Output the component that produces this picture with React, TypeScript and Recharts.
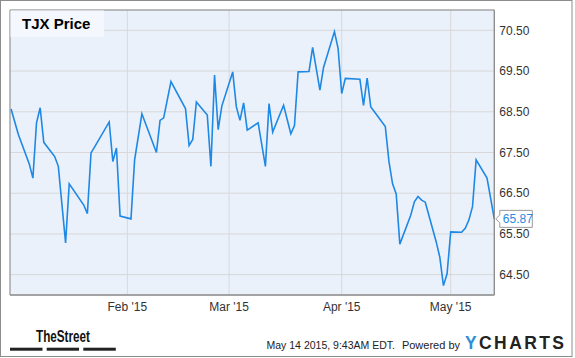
import React from "react";
import {
  LineChart,
  Line,
  XAxis,
  YAxis,
  CartesianGrid,
  ReferenceArea,
  LabelList,
} from "recharts";

const FONT = '"Liberation Sans", Arial, Helvetica, sans-serif';

// trading days that form the visible vertices of the price line
const dates = [
  "2014-12-31", "2015-01-02", "2015-01-05", "2015-01-06", "2015-01-07",
  "2015-01-08", "2015-01-09", "2015-01-12", "2015-01-13", "2015-01-15",
  "2015-01-16", "2015-01-20", "2015-01-21", "2015-01-22", "2015-01-23",
  "2015-01-27", "2015-01-28", "2015-01-29", "2015-01-30", "2015-02-02",
  "2015-02-03", "2015-02-05", "2015-02-09", "2015-02-10", "2015-02-11",
  "2015-02-13", "2015-02-17", "2015-02-18", "2015-02-19", "2015-02-20",
  "2015-02-23", "2015-02-24", "2015-02-25", "2015-02-26", "2015-02-27",
  "2015-03-02", "2015-03-03", "2015-03-04", "2015-03-05", "2015-03-06",
  "2015-03-09", "2015-03-11", "2015-03-12", "2015-03-13", "2015-03-16",
  "2015-03-18", "2015-03-19", "2015-03-20", "2015-03-23", "2015-03-24",
  "2015-03-26", "2015-03-27", "2015-03-30", "2015-03-31", "2015-04-01",
  "2015-04-02", "2015-04-06", "2015-04-07", "2015-04-08", "2015-04-09",
  "2015-04-10", "2015-04-13", "2015-04-14", "2015-04-15", "2015-04-16",
  "2015-04-17", "2015-04-20", "2015-04-21", "2015-04-22", "2015-04-23",
  "2015-04-24", "2015-04-27", "2015-04-28", "2015-04-29", "2015-04-30",
  "2015-05-01", "2015-05-04", "2015-05-05", "2015-05-06", "2015-05-07",
  "2015-05-08", "2015-05-11", "2015-05-13",
];

const prices = [
  68.57, 67.94, 67.22, 66.87, 68.23,
  68.6, 67.75, 67.4, 67.16, 65.28,
  66.73, 66.21, 66.0, 67.49, 67.64,
  68.25, 67.28, 67.61, 65.94, 65.87,
  67.32, 68.45, 67.5, 68.29, 68.35,
  69.24, 68.58, 67.67, 67.82, 68.74,
  68.42, 67.16, 69.4, 68.06, 68.64,
  69.48, 68.62, 68.29, 68.72, 68.05,
  68.23, 67.16, 68.7, 68.0, 68.66,
  67.96, 68.16, 69.48, 69.49, 70.08,
  69.03, 69.59, 70.47, 70.06, 68.95,
  69.32, 69.3, 68.66, 69.33, 68.62,
  68.5, 68.14, 67.28, 66.73, 66.48,
  65.25, 65.96, 66.29, 66.42, 66.33,
  66.28, 65.31, 64.93, 64.23, 64.52,
  65.55, 65.54, 65.64, 65.84, 66.17,
  67.32, 66.87, 65.87,
];

const xTickDates = ["2015-02-01", "2015-03-01", "2015-04-01", "2015-05-01"];
const xTickLabels = ["Feb '15", "Mar '15", "Apr '15", "May '15"];
const yTicks = [64.5, 65.5, 66.5, 67.5, 68.5, 69.5, 70.5];

const toDay = (s: string) => {
  const [y, m, d] = s.split("-").map(Number);
  return (Date.UTC(y, m - 1, d) - Date.UTC(2015, 0, 1)) / 86400000;
};

const rows = dates.map((d, i) => ({ day: toDay(d), price: prices[i] }));
const xTicks = xTickDates.map(toDay);
const X_DOMAIN: [number, number] = [-1.3, 132];
const Y_DOMAIN: [number, number] = [64, 71];

const LINE_BLUE = "#1e88e5";
const BORDER = "#8c8c8c";

// eslint-disable-next-line @typescript-eslint/no-explicit-any
function LastPriceTag(props: any) {
  const { x, y, index, value } = props;
  if (index !== prices.length - 1) return null;
  const l = x + 5.5;
  const r = x + 38;
  const t = y - 8.5;
  const b = y + 8.5;
  const d = `M${l},${t} L${r},${t} L${r},${b} L${l},${b} L${l},${y + 4} L${x + 1.5},${y} L${l},${y - 4} Z`;
  return (
    <g>
      <path d={d} fill="#fff" stroke="#999" strokeWidth={1} />
      <text x={x + 8.5} y={y + 4.3} fontSize={12} fill="#2b8ae0" fontFamily={FONT}>
        {Number(value).toFixed(2)}
      </text>
    </g>
  );
}

export default function App() {
  return (
    <div
      style={{
        position: "absolute",
        left: 0,
        top: 0,
        width: 573,
        height: 358,
        background: "#fff",
        fontFamily: FONT,
      }}
    >
      <LineChart
        width={573}
        height={358}
        data={rows}
        margin={{ top: 10, left: 10, right: 18.7, bottom: 33 }}
      >
        <CartesianGrid stroke="#d8d8d8" fill="#eaf1fb" />
        <XAxis
          dataKey="day"
          type="number"
          domain={X_DOMAIN}
          allowDataOverflow
          ticks={xTicks}
          tickFormatter={(v) => xTickLabels[xTicks.indexOf(v)] ?? ""}
          tickLine={false}
          axisLine={{ stroke: BORDER }}
          tick={{ fill: "#333", fontSize: 12, fontFamily: FONT }}
          tickSize={6}
          tickMargin={1}
          height={30}
        />
        <YAxis
          orientation="right"
          domain={Y_DOMAIN}
          allowDataOverflow
          ticks={yTicks}
          tickFormatter={(v) => v.toFixed(2)}
          tickLine={false}
          axisLine={{ stroke: BORDER }}
          tick={{ fill: "#333", fontSize: 12, fontFamily: FONT }}
          tickSize={3}
          tickMargin={2}
          width={60}
        />
        <ReferenceArea
          x1={X_DOMAIN[0]}
          x2={X_DOMAIN[1]}
          y1={Y_DOMAIN[0]}
          y2={Y_DOMAIN[1]}
          fill="none"
          stroke={BORDER}
          strokeWidth={1}
        />
        <Line
          type="linear"
          dataKey="price"
          stroke={LINE_BLUE}
          strokeWidth={1.6}
          dot={false}
          activeDot={false}
          isAnimationActive={false}
        >
          <LabelList dataKey="price" content={<LastPriceTag />} />
        </Line>
      </LineChart>

      <svg
        width={573}
        height={358}
        style={{ position: "absolute", left: 0, top: 0, pointerEvents: "none" }}
      >
        <rect x={0.5} y={0.5} width={571.5} height={356} fill="none" stroke={BORDER} />
        <rect x={10.5} y={10.5} width={93.5} height={26.5} fill="#f4f7fd" />
        <text x={22} y={29.3} fontSize={15} fontWeight="bold" fill="#000" fontFamily={FONT}>
          TJX Price
        </text>

        <text
          x={36}
          y={341.7}
          fontSize={17}
          fontWeight="bold"
          fill="#111"
          fontFamily={FONT}
          textLength={54}
          lengthAdjust="spacingAndGlyphs"
        >
          TheStreet
        </text>
        <rect x={10} y={347.7} width={32.5} height={3} fill="#222" />
        <rect x={46.7} y={347.7} width={32.3} height={3} fill="#222" />
        <rect x={83.3} y={347.7} width={32.5} height={3} fill="#222" />

        <text
          x={266.5}
          y={349}
          fontSize={11}
          fill="#222"
          fontFamily={FONT}
          textLength={128.5}
          lengthAdjust="spacingAndGlyphs"
        >
          May 14 2015, 9:43AM EDT.
        </text>
        <text x={460} y={349} fontSize={11} fill="#222" fontFamily={FONT} textAnchor="end">
          Powered by
        </text>
        <text
          x={465}
          y={349.3}
          fontSize={17.5}
          fontWeight="bold"
          fontFamily={FONT}
          letterSpacing={2.4}
        >
          <tspan fill="#2f8fd8">Y</tspan>
          <tspan fill="#222">CHARTS</tspan>
        </text>
      </svg>
    </div>
  );
}
